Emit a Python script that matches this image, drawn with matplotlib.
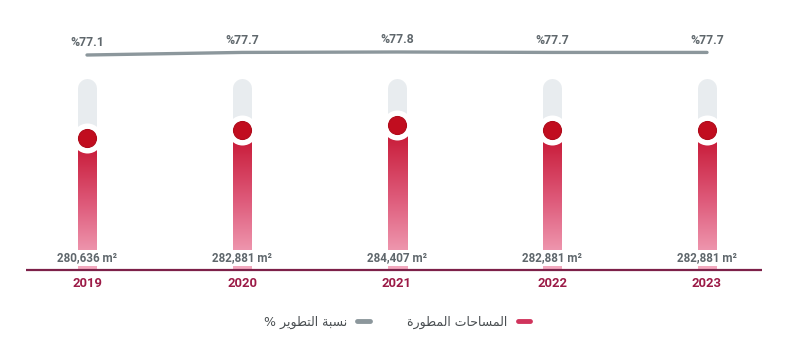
import numpy as np
import matplotlib
matplotlib.use('Agg')
import matplotlib.pyplot as plt
from matplotlib.lines import Line2D
from matplotlib.colors import LinearSegmentedColormap

years = ['2019', '2020', '2021', '2022', '2023']
areas = [280636, 282881, 284407, 282881, 282881]
ratio = [77.1, 77.7, 77.8, 77.7, 77.7]
area_labels = ['280,636 m²', '282,881 m²', '284,407 m²', '282,881 m²', '282,881 m²']
ratio_labels = ['%77.1', '%77.7', '%77.8', '%77.7', '%77.7']
legend_area = 'المساحات المطورة'
legend_ratio = 'نسبة التطوير %'

# -- Arabic shaping (matplotlib has no text shaping) --------------------------
FORMS = {  # iso, final, initial, medial
    'ا': ('\uFE8D', '\uFE8E', None, None),
    'ل': ('\uFEDD', '\uFEDE', '\uFEDF', '\uFEE0'),
    'م': ('\uFEE1', '\uFEE2', '\uFEE3', '\uFEE4'),
    'س': ('\uFEB1', '\uFEB2', '\uFEB3', '\uFEB4'),
    'ح': ('\uFEA1', '\uFEA2', '\uFEA3', '\uFEA4'),
    'ت': ('\uFE95', '\uFE96', '\uFE97', '\uFE98'),
    'ط': ('\uFEC1', '\uFEC2', '\uFEC3', '\uFEC4'),
    'و': ('\uFEED', '\uFEEE', None, None),
    'ر': ('\uFEAD', '\uFEAE', None, None),
    'ة': ('\uFE93', '\uFE94', None, None),
    'ن': ('\uFEE5', '\uFEE6', '\uFEE7', '\uFEE8'),
    'ب': ('\uFE8F', '\uFE90', '\uFE91', '\uFE92'),
    'ي': ('\uFEF1', '\uFEF2', '\uFEF3', '\uFEF4'),
}


def joins_next(c):
    return c in FORMS and FORMS[c][2] is not None


def shape(s):
    out = []
    for i, c in enumerate(s):
        if c not in FORMS:
            out.append(c)
            continue
        prev = s[i - 1] if i > 0 else ''
        nxt = s[i + 1] if i + 1 < len(s) else ''
        p = joins_next(prev)
        n = joins_next(c) and nxt in FORMS
        f = FORMS[c]
        if p and n:
            out.append(f[3])
        elif p:
            out.append(f[1])
        elif n:
            out.append(f[2])
        else:
            out.append(f[0])
    return ''.join(out)[::-1]


W, H = 800, 351
fig = plt.figure(figsize=(W / 100, H / 100), dpi=100)
fig.patch.set_facecolor('white')

x = np.arange(len(years))
px_unit = 155.0          # pixels per category
x0_px = 87.0
xlim = (-x0_px / px_unit, (W - x0_px) / px_unit)

# bars axis: bottom = baseline, top = top of grey track
base_px, top_px = 270, 78
ax = fig.add_axes([0, 1 - base_px / H, 1, (base_px - top_px) / H])
ymin, ymax = 242400, 298050
ax.set_xlim(*xlim)
ax.set_ylim(ymin, ymax)
ax.axis('off')
unit_per_px = (ymax - ymin) / (base_px - top_px)

bw = 19 / px_unit
track_r = 9.5 * unit_per_px
cmap = LinearSegmentedColormap.from_list('rd', ['#f4adc2', '#de5a7a', '#c5122f'])
grad = np.linspace(0, 1, 256).reshape(-1, 1)

for i, v in enumerate(areas):
    # grey rounded track
    ax.plot([i, i], [ymin, ymax - track_r], color='#e8ecef', lw=19 * 0.72,
            solid_capstyle='round', zorder=1)
    ax.plot([i, i], [ymin, ymin + track_r], color='#e8ecef', lw=19 * 0.72,
            solid_capstyle='butt', zorder=1)
    # red gradient bar
    ax.imshow(grad, cmap=cmap, aspect='auto', origin='lower',
              extent=[i - bw / 2, i + bw / 2, ymin, v], zorder=2)

ax.set_xlim(*xlim)
ax.set_ylim(ymin, ymax)
ax.scatter(x, areas, s=(30 * 0.72) ** 2, color='white', zorder=3, linewidths=0)
ax.scatter(x, areas, s=(18 * 0.72) ** 2, color='#c10d1f', edgecolors='#b00a1a',
           linewidths=0.8, zorder=4)

# baseline
ax.plot([(26 - x0_px) / px_unit, (762 - x0_px) / px_unit], [ymin, ymin],
        color='#7d2149', lw=1.6, zorder=5, clip_on=False, solid_capstyle='butt')

for i, (lab, yr) in enumerate(zip(area_labels, years)):
    ax.annotate(lab, (i, ymin), xytext=(0, 12 * 0.72), textcoords='offset points',
                ha='center', va='center', fontsize=8.4, fontweight='bold',
                family='Roboto', color='#5f676c', zorder=6,
                bbox=dict(boxstyle='square,pad=0.12', fc='white', ec='none'))
    ax.annotate(yr, (i, ymin), xytext=(0, -13 * 0.72), textcoords='offset points',
                ha='center', va='center', fontsize=9.4, fontweight='bold',
                family='Roboto', color='#9c1b47', annotation_clip=False)

# ratio line axis
l_top, l_bot = 30, 70
ax2 = fig.add_axes([0, 1 - l_bot / H, 1, (l_bot - l_top) / H])
ax2.set_xlim(*xlim)
ax2.set_ylim(77.1 - 15 / 4.3, 77.1 + 25 / 4.3)
ax2.axis('off')
ax2.plot(x, ratio, color='#8c979c', lw=2.4, solid_capstyle='round')
for i, (v, lab) in enumerate(zip(ratio, ratio_labels)):
    ax2.annotate(lab, (i, v), xytext=(0, 12 * 0.72), textcoords='offset points',
                 ha='center', va='center', fontsize=8.8, fontweight='bold',
                 family='Roboto', color='#5f676c', annotation_clip=False)

# legend (right-to-left: handle after text)
handles = [Line2D([], [], color='#8c979c', lw=3.5, solid_capstyle='round'),
           Line2D([], [], color='#d0345c', lw=3.5, solid_capstyle='round')]
leg = fig.legend(handles, [shape(legend_ratio), shape(legend_area)],
                 loc='center', bbox_to_anchor=(397 / W, 1 - 322 / H), ncol=2,
                 markerfirst=False, frameon=False, handlelength=1.0,
                 handletextpad=0.8, columnspacing=3.0,
                 prop=dict(family='DejaVu Sans', size=9))
for t in leg.get_texts():
    t.set_color('#4a4f52')

fig.savefig('out.png', dpi=100, facecolor='white')
